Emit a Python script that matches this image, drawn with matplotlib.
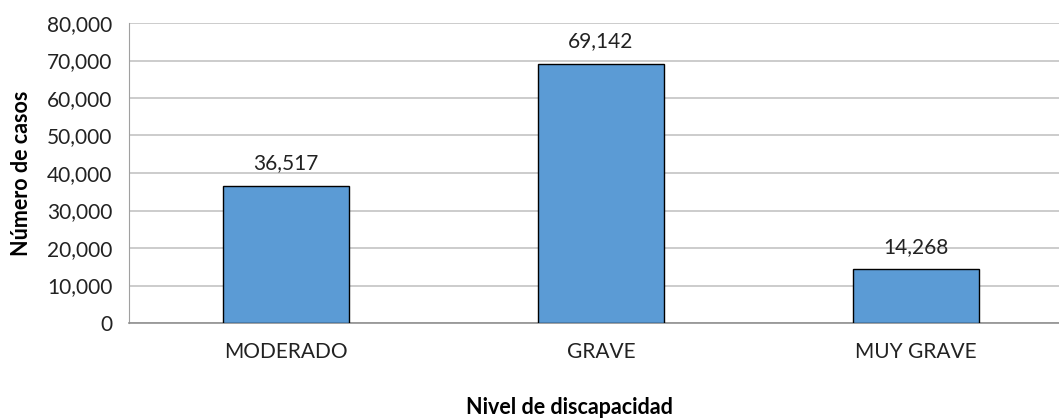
import matplotlib.pyplot as plt
from matplotlib.ticker import FuncFormatter

niveles = ["MODERADO", "GRAVE", "MUY GRAVE"]
casos = [36517, 69142, 14268]

plt.rcParams['font.family'] = ['Lato', 'DejaVu Sans']

fig = plt.figure(figsize=(10.59, 4.18), dpi=100)
# el area de trazado se sale un poco por la derecha
ax = fig.add_axes([129 / 1059, 95 / 418, 944 / 1059, 300 / 418])

x = range(len(niveles))
barras = ax.bar(x, casos, width=0.4, color='#5B9BD5', edgecolor='black', linewidth=1.0, zorder=3)

for b, v in zip(barras, casos):
    ax.annotate(f"{v:,}", (b.get_x() + b.get_width() / 2, v), xytext=(0, 9),
                textcoords='offset points', ha='center', va='bottom', fontsize=15, color='#222222')

ax.set_xlim(-0.5, 2.5)
ax.set_ylim(0, 80000)
ax.set_yticks(range(0, 80001, 10000))
ax.yaxis.set_major_formatter(FuncFormatter(lambda v, p: f"{int(v):,}"))
ax.set_xticks(list(x))
ax.set_xticklabels(niveles)
ax.tick_params(axis='both', length=0, labelsize=15, colors='#222222')
ax.tick_params(axis='x', pad=14)
ax.tick_params(axis='y', pad=12)

ax.grid(axis='y', color='#c4c4c4', linewidth=1.2, zorder=0)
for s in ['top', 'right']:
    ax.spines[s].set_visible(False)
ax.spines['left'].set_color('#a0a0a0')
ax.spines['bottom'].set_color('#909090')
ax.spines['bottom'].set_linewidth(1.2)

ax.set_ylabel("Número de casos", fontsize=15.5, fontweight='bold', labelpad=11)
fig.text(569 / 1059, 10 / 418, "Nivel de discapacidad", ha='center', va='center',
         fontsize=15.5, fontweight='bold')

fig.savefig("out.png", dpi=100)
